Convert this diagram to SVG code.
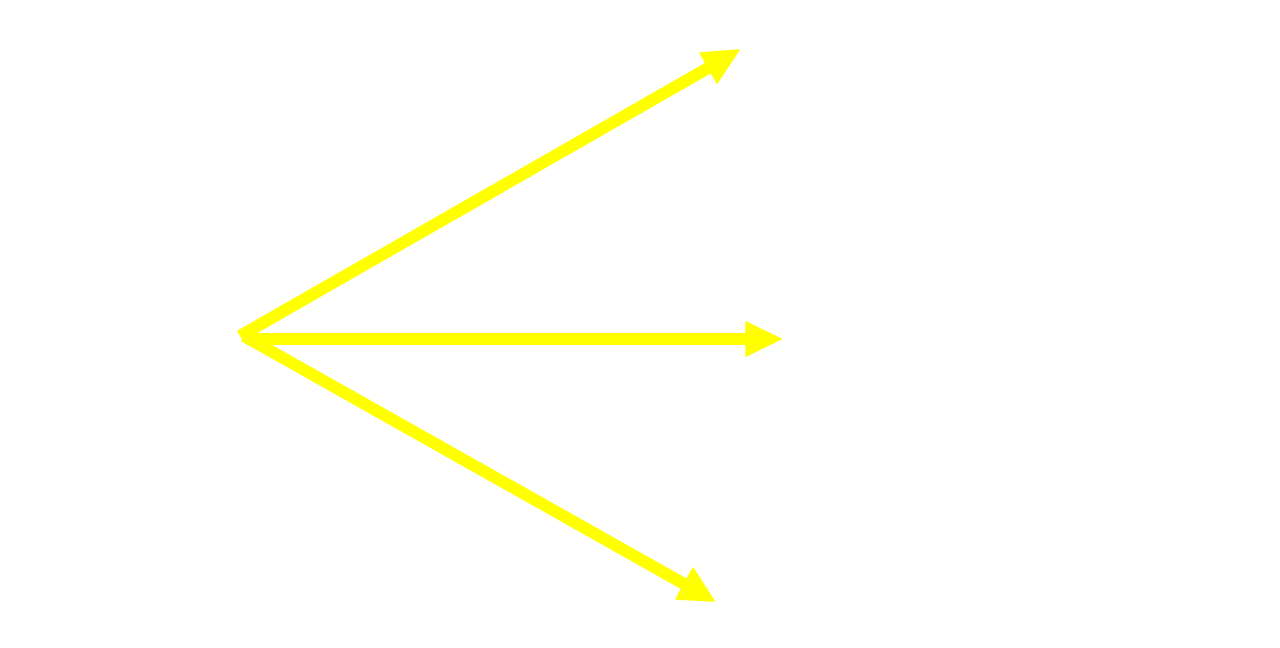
<svg xmlns="http://www.w3.org/2000/svg" width="1280" height="648" viewBox="0 0 1280 648">
<style>
.ln{stroke:#ffff00;stroke-width:12;fill:none;stroke-linecap:butt}
.hd{fill:#ffff00;stroke:#ffff00;stroke-width:1.5;stroke-linejoin:round}
</style>
<rect width="1280" height="648" fill="#ffffff"/>
<g id="connectors">
<g id="arrow-top">
<line class="ln" x1="240" y1="336" x2="710" y2="67"/>
<polygon class="hd" points="700,53 739,50 717,83"/>
</g>
<g id="arrow-middle">
<line class="ln" x1="248" y1="339" x2="750" y2="339"/>
<polygon class="hd" points="746,322 781,339 746,356"/>
</g>
<g id="arrow-bottom">
<line class="ln" x1="244" y1="336" x2="686" y2="585"/>
<polygon class="hd" points="693,568 714,601 676,599"/>
</g>
</g>
</svg>
